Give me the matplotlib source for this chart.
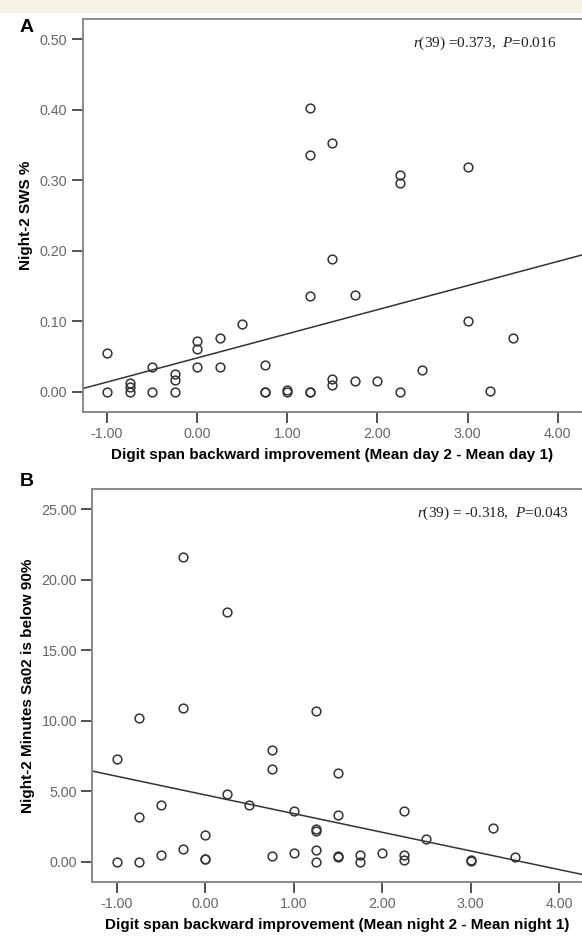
"""
Digit span backward improvement vs night-2 sleep measures (two panels)
"""
import numpy as np
import matplotlib
matplotlib.use("Agg")
import matplotlib.pyplot as plt
from matplotlib.patches import Rectangle

# panel A: digit span improvement (day 2 - day 1) vs night-2 SWS %
a_x = [-1.00, -1.00, -0.75, -0.75, -0.75, -0.50, -0.50, -0.25, -0.25, -0.25,
       0.00, 0.00, 0.00, 0.25, 0.25, 0.50, 0.75, 0.75, 0.75, 1.00, 1.00,
       1.25, 1.25, 1.25, 1.25, 1.25, 1.50, 1.50, 1.50, 1.50, 1.75, 1.75,
       2.00, 2.25, 2.25, 2.25, 2.50, 3.00, 3.00, 3.25, 3.50]
a_y = [0.055, 0.000, 0.012, 0.007, 0.000, 0.035, 0.000, 0.026, 0.017, 0.000,
       0.072, 0.061, 0.035, 0.076, 0.035, 0.096, 0.038, 0.000, 0.000, 0.003, 0.000,
       0.403, 0.336, 0.136, 0.000, 0.000, 0.353, 0.188, 0.018, 0.010, 0.137, 0.015,
       0.016, 0.308, 0.296, 0.000, 0.031, 0.319, 0.100, 0.002, 0.076]

# panel B: digit span improvement (night 2 - night 1) vs minutes SaO2 < 90%
b_x = [-1.00, -1.00, -0.75, -0.75, -0.75, -0.50, -0.50, -0.25, -0.25, -0.25,
       0.00, 0.00, 0.00, 0.25, 0.25, 0.50, 0.75, 0.75, 0.75, 1.00, 1.00,
       1.25, 1.25, 1.25, 1.25, 1.25, 1.50, 1.50, 1.50, 1.50, 1.75, 1.75,
       2.00, 2.25, 2.25, 2.25, 2.50, 3.00, 3.00, 3.25, 3.50]
b_y = [7.3, 0.0, 10.2, 3.2, 0.0, 4.0, 0.45, 21.6, 10.9, 0.9,
       1.9, 0.22, 0.18, 17.7, 4.8, 4.0, 7.9, 6.6, 0.4, 3.6, 0.64,
       10.7, 2.3, 2.2, 0.83, 0.0, 6.3, 3.3, 0.4, 0.33, 0.45, 0.0,
       0.64, 3.6, 0.47, 0.12, 1.6, 0.1, 0.02, 2.4, 0.33]

a_ticks = [0.0, 0.1, 0.2, 0.3, 0.4, 0.5]
b_ticks = [0.0, 5.0, 10.0, 15.0, 20.0, 25.0]
x_ticks = [-1.0, 0.0, 1.0, 2.0, 3.0, 4.0]

plt.rcParams['font.family'] = ['Liberation Sans', 'DejaVu Sans']
plt.rcParams['mathtext.fontset'] = 'custom'
plt.rcParams['mathtext.rm'] = 'Liberation Serif'
plt.rcParams['mathtext.it'] = 'Liberation Serif:italic'

W, H = 582, 939
fig = plt.figure(figsize=(W / 100, H / 100), dpi=100)
fig.patch.set_facecolor('white')
fig.add_artist(Rectangle((0, 1 - 12.5 / H), 1, 12.5 / H, transform=fig.transFigure,
                         facecolor='#f5f1e3', edgecolor='none'))


def panel(rect, x, y, xlim, ylim, yticks, xlabel, ylabel, note, note_xy, letter, letter_y):
    ax = fig.add_axes(rect)
    ax.plot(x, y, 'o', ms=6.3, mfc='none', mec='#333333', mew=1.1, ls='none')
    k, b = np.polyfit(x, y, 1)
    xs = np.array(xlim)
    ax.plot(xs, k * xs + b, color='#333333', lw=1.1)
    ax.set_xlim(*xlim)
    ax.set_ylim(*ylim)
    ax.set_xticks(x_ticks)
    ax.set_xticklabels(['%.2f' % t for t in x_ticks])
    ax.set_yticks(yticks)
    ax.set_yticklabels(['%.2f' % t for t in yticks])
    for s in ['left', 'bottom', 'top']:
        ax.spines[s].set_color('#8a8a8a')
        ax.spines[s].set_linewidth(1.4)
    ax.spines['right'].set_visible(False)
    ax.tick_params(direction='out', length=8, width=1.3, color='#444444',
                   labelcolor='#666666', labelsize=10.3, pad=3)
    ax.set_xlabel(xlabel, fontsize=11, fontweight='bold', labelpad=5)
    ax.set_ylabel(ylabel, fontsize=11, fontweight='bold', labelpad=5)
    ax.text(note_xy[0], note_xy[1], note, transform=ax.transAxes, ha='right', va='center',
            fontsize=11, family=['Liberation Serif', 'DejaVu Serif'], color='#222222')
    fig.text(20 / W, 1 - letter_y / H, letter, fontsize=14, fontweight='bold',
             ha='left', va='center')
    return ax


panel([82.7 / W, (H - 411.7) / H, 1 - 82.7 / W, (411.7 - 19) / H],
      a_x, a_y, (-1.27, 4.27), (-0.028, 0.529), a_ticks,
      'Digit span backward improvement (Mean day 2 - Mean day 1)',
      'Night-2 SWS %',
      r'$r$(39) =0.373,  $P$=0.016', (0.948, 0.939), 'A', 28)

panel([92.3 / W, (H - 881.7) / H, 1 - 92.3 / W, (881.7 - 489.3) / H],
      b_x, b_y, (-1.276, 4.26), (-1.42, 26.42), b_ticks,
      'Digit span backward improvement (Mean night 2 - Mean night 1)',
      'Night-2 Minutes Sa02 is below 90%',
      r'$r$(39) = -0.318,  $P$=0.043', (0.9735, 0.9396), 'B', 481)

fig.savefig('out.png', dpi=100)
